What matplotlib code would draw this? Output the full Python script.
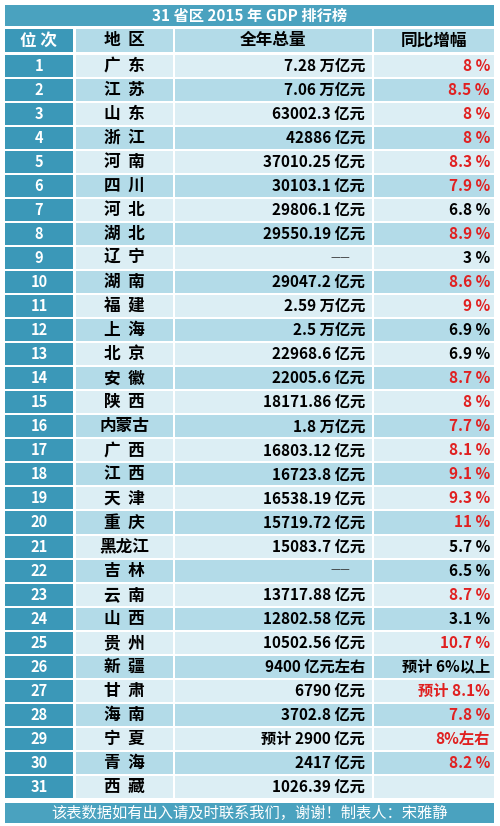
import matplotlib
matplotlib.use("Agg")
import matplotlib.pyplot as plt
from matplotlib.patches import Rectangle

plt.rcParams['font.family'] = ['Noto Sans CJK SC', 'DejaVu Sans']

title = "31 省区 2015 年 GDP 排行榜"
headers = ["位 次", "地  区", "全年总量", "同比增幅"]
ranks = list(range(1, 32))
regions = ["广  东", "江  苏", "山  东", "浙  江", "河  南", "四  川", "河  北", "湖  北", "辽  宁", "湖  南",
           "福  建", "上  海", "北  京", "安  徽", "陕  西", "内蒙古", "广  西", "江  西", "天  津", "重  庆",
           "黑龙江", "吉  林", "云  南", "山  西", "贵  州", "新  疆", "甘  肃", "海  南", "宁  夏", "青  海", "西  藏"]
totals = ["7.28 万亿元", "7.06 万亿元", "63002.3 亿元", "42886 亿元", "37010.25 亿元", "30103.1 亿元",
          "29806.1 亿元", "29550.19 亿元", "——", "29047.2 亿元", "2.59 万亿元", "2.5 万亿元",
          "22968.6 亿元", "22005.6 亿元", "18171.86 亿元", "1.8 万亿元", "16803.12 亿元", "16723.8 亿元",
          "16538.19 亿元", "15719.72 亿元", "15083.7 亿元", "——", "13717.88 亿元", "12802.58 亿元",
          "10502.56 亿元", "9400 亿元左右", "6790 亿元", "3702.8 亿元", "预计 2900 亿元", "2417 亿元",
          "1026.39 亿元"]
growth = ["8 %", "8.5 %", "8 %", "8 %", "8.3 %", "7.9 %", "6.8 %", "8.9 %", "3 %", "8.6 %",
          "9 %", "6.9 %", "6.9 %", "8.7 %", "8 %", "7.7 %", "8.1 %", "9.1 %", "9.3 %", "11 %",
          "5.7 %", "6.5 %", "8.7 %", "3.1 %", "10.7 %", "预计 6%以上", "预计 8.1%", "7.8 %", "8%左右",
          "8.2 %", ""]
growth_red = [True, True, True, True, True, True, False, True, False, True,
              True, False, False, True, True, True, True, True, True, True,
              False, False, True, False, True, False, True, True, True, True, True]
footer = "该表数据如有出入请及时联系我们，谢谢！制表人：宋雅静"

W, H = 500, 826
fig = plt.figure(figsize=(W/100, H/100), dpi=100)
ax = fig.add_axes([0, 0, 1, 1])
ax.set_xlim(0, W); ax.set_ylim(H, 0); ax.axis('off')
fig.patch.set_facecolor('white')

teal = '#4aa2bf'
dark = '#3b98b8'
light = '#dcEEf4'
mid = '#b3dbe8'
cols = [(5, 73), (76, 173), (175, 372), (374, 494)]

def rect(x0, y0, x1, y1, c):
    ax.add_patch(Rectangle((x0, y0), x1-x0, y1-y0, facecolor=c, edgecolor='none'))

rect(5, 5, 494, 26, teal)
ax.text(250, 15.5, title, ha='center', va='center', color='white', fontsize=11, fontweight='bold')

hy0, hy1 = 29, 52
rect(cols[0][0], hy0, cols[0][1], hy1, dark)
for c in cols[1:]:
    rect(c[0], hy0, c[1], hy1, mid)
hyc = (hy0+hy1)/2
ax.text(39, hyc, headers[0], ha='center', va='center', color='white', fontsize=12, fontweight='bold')
ax.text(124, hyc, headers[1], ha='center', va='center', color='black', fontsize=12, fontweight='bold')
ax.text(273, hyc, headers[2], ha='center', va='center', color='black', fontsize=12, fontweight='bold')
ax.text(434, hyc, headers[3], ha='center', va='center', color='black', fontsize=12, fontweight='bold')

y0 = 54.5
rh = 24.05
for i, r in enumerate(ranks):
    top = y0 + i*rh
    bot = top + rh - 2
    bg = light if i % 2 == 0 else mid
    rect(cols[0][0], top, cols[0][1], bot, dark)
    for c in cols[1:]:
        rect(c[0], top, c[1], bot, bg)
    yc = (top+bot)/2
    ax.text(39, yc, str(r), ha='center', va='center', color='white', fontsize=10.5, fontweight='bold')
    ax.text(124, yc, regions[i], ha='center', va='center', color='black', fontsize=12, fontweight='bold')
    t = totals[i]
    if t == "——":
        ax.text(340, yc, t, ha='center', va='center', color='#333333', fontsize=8)
    else:
        ax.text(365, yc, t, ha='right', va='center', color='black', fontsize=11, fontweight='bold')
    ax.text(490, yc, growth[i], ha='right', va='center',
            color='#e02020' if growth_red[i] else 'black', fontsize=11, fontweight='bold')

rect(5, 803, 494, 823, teal)
ax.text(250, 813, footer, ha='center', va='center', color='white', fontsize=11)

fig.savefig('out.png', dpi=100)
